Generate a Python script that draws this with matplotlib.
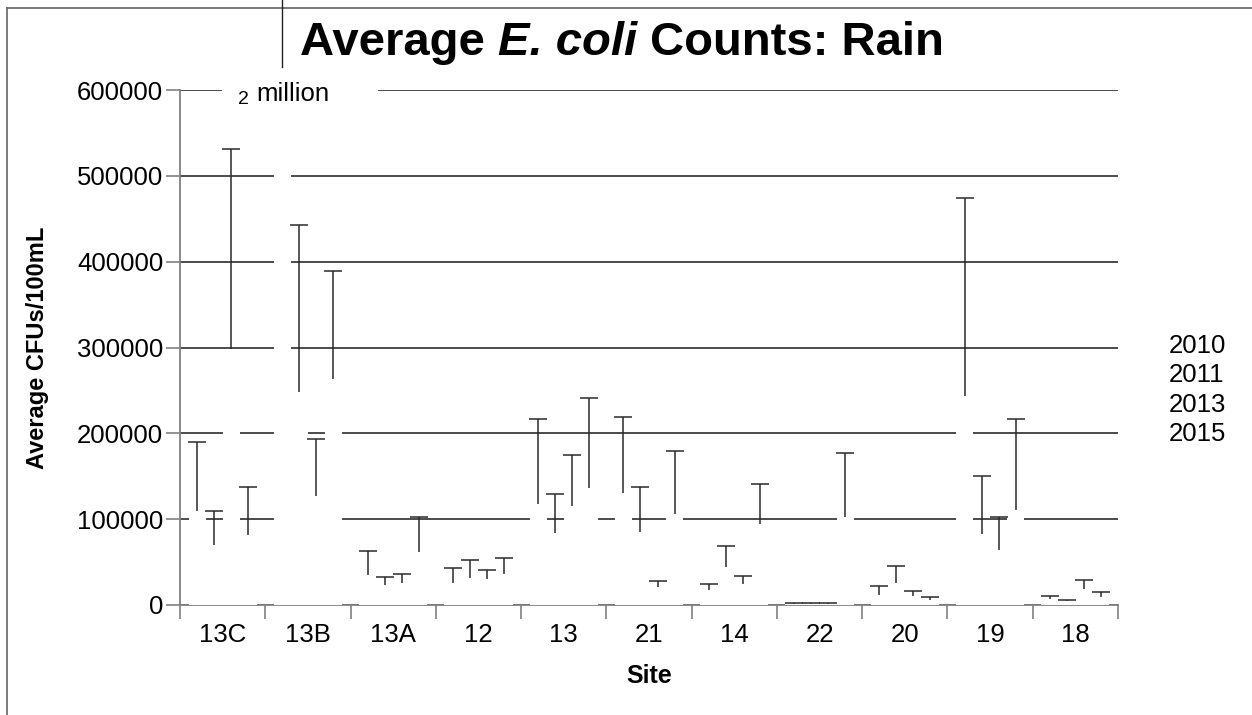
import matplotlib
matplotlib.use("Agg")
import matplotlib.pyplot as plt
import numpy as np
from matplotlib.lines import Line2D
from matplotlib.patches import Rectangle

sites = ["13C", "13B", "13A", "12", "13", "21", "14", "22", "20", "19", "18"]
years = ["2010", "2011", "2013", "2015"]

# average counts (bar heights)
avg_2010 = [109000, 2000000, 35000, 26000, 118000, 130000, 17000, 1000, 12000, 243000, 7000]
avg_2011 = [70000, 248000, 23000, 32000, 84000, 85000, 44000, 1000, 26000, 83000, 5000]
avg_2013 = [298000, 127000, 26000, 30000, 115000, 21000, 24000, 1000, 11000, 64000, 19000]
avg_2015 = [82000, 263000, 62000, 36000, 136000, 106000, 94000, 103000, 6000, 111000, 9000]

# upper error (drawn only above the bar)
err_2010 = [81000, 400000, 28000, 17000, 99000, 89000, 7000, 1000, 10000, 231000, 3000]
err_2011 = [39000, 195000, 10000, 20000, 45000, 52000, 25000, 1000, 19000, 67000, 1000]
err_2013 = [233000, 66000, 10000, 11000, 60000, 7000, 10000, 1000, 5000, 38000, 10000]
err_2015 = [56000, 126000, 41000, 19000, 105000, 73000, 47000, 74000, 3000, 106000, 6000]

y_ticks = [0, 100000, 200000, 300000, 400000, 500000, 600000]

FONT = "Liberation Sans"
plt.rcParams["font.family"] = [FONT, "DejaVu Sans"]

fig = plt.figure(figsize=(12.52, 7.15), dpi=100)
ax = fig.add_axes([180 / 1252, 1 - 605 / 715, 938 / 1252, 515 / 715])

x = np.arange(len(sites))
width = 0.2
series = [(avg_2010, err_2010), (avg_2011, err_2011),
          (avg_2013, err_2013), (avg_2015, err_2015)]
handles = []
for i, (avg, err) in enumerate(series):
    pos = x + (i - 1.5) * width
    b = ax.bar(pos, avg, width, color="white", edgecolor="none",
               zorder=3, label=years[i])
    handles.append(b)
    eb = ax.errorbar(pos, avg, yerr=[np.zeros(len(avg)), err], fmt="none",
                     ecolor="#2a2a2a", elinewidth=1.1, capsize=6.5,
                     capthick=1.1, zorder=4)
    # plus-only error bars: hide the lower cap
    eb[1][0].set_visible(False)

ax.set_xlim(-0.5, len(sites) - 0.5)
ax.set_ylim(0, 600000)
ax.set_yticks(y_ticks)
ax.set_yticklabels([str(v) for v in y_ticks], fontsize=18.5)
ax.set_xticks(np.arange(len(sites) + 1) - 0.5)
ax.set_xticklabels([])
ax.set_xticks(x, minor=True)
ax.set_xticklabels(sites, minor=True, fontsize=18.5)
ax.tick_params(axis="x", which="major", direction="out", length=10,
               color="#808080", width=1.2)
ax.tick_params(axis="x", which="minor", length=0, pad=13)
ax.tick_params(axis="y", direction="out", length=10, color="#808080",
               width=1.2, pad=2)

ax.grid(axis="y", color="#1a1a1a", linewidth=1.1)
ax.set_axisbelow(True)
for s in ["top", "right"]:
    ax.spines[s].set_visible(False)
for s in ["left", "bottom"]:
    ax.spines[s].set_color("#808080")
    ax.spines[s].set_linewidth(1.3)

ax.set_xlabel("Site", fontsize=18, fontweight="bold", labelpad=12)
ax.set_ylabel("Average CFUs/100mL", fontsize=17, fontweight="bold", labelpad=20)

# label for the off-scale bar
ax.add_patch(Rectangle((42 / 938, 0.985), 156 / 938, 0.03, transform=ax.transAxes,
                       facecolor="white", edgecolor="none", clip_on=False, zorder=5))
ax.text(58 / 938, 1 - 14 / 515, "2", transform=ax.transAxes, fontsize=14,
        ha="left", va="baseline", zorder=6)
ax.text(76 / 938, 1 - 11 / 515, "million", transform=ax.transAxes, fontsize=18.5,
        ha="left", va="baseline", zorder=6)

ax.legend(handles=handles, loc="center left", bbox_to_anchor=(1133 / 1252, 1 - 390 / 715),
          bbox_transform=fig.transFigure, frameon=False, fontsize=18.5,
          handlelength=0.3, handletextpad=0.2, labelspacing=0.2)

# title in pieces so "E. coli" can be italic
renderer = fig.canvas.get_renderer()
pieces = [("Average ", "normal"), ("E. coli", "italic"), (" Counts: Rain", "normal")]
texts = []
for s, st in pieces:
    t = fig.text(0, 1 - 55 / 715, s, fontsize=34, fontweight="bold", style=st,
                 ha="left", va="baseline")
    texts.append(t)
widths = [t.get_window_extent(renderer).width for t in texts]
xpos = 622 - sum(widths) / 2
for t, w in zip(texts, widths):
    t.set_x(xpos / 1252)
    xpos += w

# slide frame lines
fig.add_artist(Line2D([7 / 1252, 1], [1 - 8 / 715, 1 - 8 / 715], color="#707070", lw=1.3))
fig.add_artist(Line2D([7 / 1252, 7 / 1252], [0, 1 - 8 / 715], color="#707070", lw=1.3))
fig.add_artist(Line2D([282 / 1252, 282 / 1252], [1 - 67 / 715, 1], color="#202020", lw=1))

fig.savefig("out.png", dpi=100, facecolor="white")
